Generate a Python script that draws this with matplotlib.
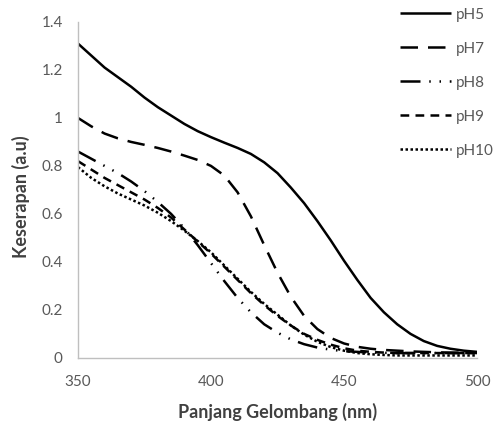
import matplotlib
matplotlib.use("Agg")
import matplotlib.pyplot as plt

# absorbance spectra at different pH, 350-500 nm in 5 nm steps
wavelength = list(range(350, 501, 5))

ph5 = [1.31, 1.26, 1.21, 1.17, 1.13, 1.085, 1.045, 1.01, 0.975, 0.945, 0.92,
       0.897, 0.875, 0.85, 0.815, 0.77, 0.71, 0.645, 0.57, 0.49, 0.405,
       0.325, 0.25, 0.19, 0.14, 0.10, 0.07, 0.05, 0.038, 0.03, 0.025]
ph7 = [1.0, 0.965, 0.935, 0.915, 0.90, 0.888, 0.875, 0.86, 0.843, 0.825, 0.80,
       0.76, 0.69, 0.59, 0.47, 0.355, 0.255, 0.175, 0.12, 0.083, 0.06,
       0.046, 0.038, 0.033, 0.03, 0.027, 0.025, 0.023, 0.022, 0.021, 0.02]
ph8 = [0.86, 0.83, 0.80, 0.77, 0.735, 0.695, 0.65, 0.60, 0.54, 0.47, 0.395,
       0.32, 0.25, 0.19, 0.14, 0.105, 0.077, 0.057, 0.043, 0.034, 0.028,
       0.025, 0.022, 0.021, 0.02, 0.02, 0.02, 0.02, 0.02, 0.02, 0.02]
ph9 = [0.82, 0.785, 0.75, 0.72, 0.69, 0.66, 0.625, 0.585, 0.535, 0.485, 0.435,
       0.38, 0.325, 0.27, 0.22, 0.175, 0.135, 0.10, 0.075, 0.055, 0.04,
       0.03, 0.025, 0.022, 0.02, 0.02, 0.02, 0.02, 0.02, 0.02, 0.02]
ph10 = [0.795, 0.75, 0.715, 0.685, 0.66, 0.635, 0.605, 0.57, 0.53, 0.487, 0.44,
        0.385, 0.33, 0.275, 0.225, 0.18, 0.135, 0.097, 0.067, 0.045, 0.03,
        0.02, 0.015, 0.012, 0.01, 0.01, 0.01, 0.01, 0.01, 0.01, 0.01]

labels = ["pH5", "pH7", "pH8", "pH9", "pH10"]
xticks = [350, 400, 450, 500]
yticks = [0, 0.2, 0.4, 0.6, 0.8, 1, 1.2, 1.4]
ytick_labels = ["0", "0.2", "0.4", "0.6", "0.8", "1", "1.2", "1.4"]

plt.rcParams["font.family"] = ["Lato", "DejaVu Sans"]

fig = plt.figure(figsize=(5, 4.23), dpi=100)
ax = fig.add_axes([0.156, 0.154, 0.798, 0.794])

lw = 1.8
styles = [
    (0, ()),
    (0, (7, 4)),
    (0, (8, 3.5, 0.6, 3.5, 0.6, 3.5)),
    (0, (3.5, 2.5)),
    (0, (1, 1)),
]
series = [ph5, ph7, ph8, ph9, ph10]
lines = []
for vals, ls, lab in zip(series, styles, labels):
    ln, = ax.plot(wavelength, vals, color="black", lw=lw, linestyle=ls,
                  label=lab, dash_capstyle="butt", solid_capstyle="butt")
    lines.append(ln)

ax.set_xlim(350, 500)
ax.set_ylim(0, 1.4)
ax.set_xticks(xticks)
ax.set_yticks(yticks)
ax.set_yticklabels(ytick_labels)

for side in ["top", "right"]:
    ax.spines[side].set_visible(False)
for side in ["left", "bottom"]:
    ax.spines[side].set_color("#bfbfbf")
    ax.spines[side].set_linewidth(1.0)

ax.tick_params(axis="both", length=0, labelsize=11, labelcolor="#595959")
ax.tick_params(axis="x", pad=12)
ax.tick_params(axis="y", pad=11)

ax.set_xlabel("Panjang Gelombang (nm)", fontsize=13, fontweight="bold",
              color="#404040")
ax.set_ylabel("Keserapan (a.u)", fontsize=13, fontweight="bold",
              color="#404040")
ax.xaxis.set_label_coords(0.5, -0.134)
ax.yaxis.set_label_coords(-0.12, 0.48)

fig.legend(handles=lines, loc="upper left", bbox_to_anchor=(0.80, 0.982),
           frameon=False, fontsize=11, labelcolor="#595959",
           handlelength=3.33, handletextpad=0.33, labelspacing=1.31,
           borderaxespad=0, borderpad=0)

fig.savefig("out.png", dpi=100)
